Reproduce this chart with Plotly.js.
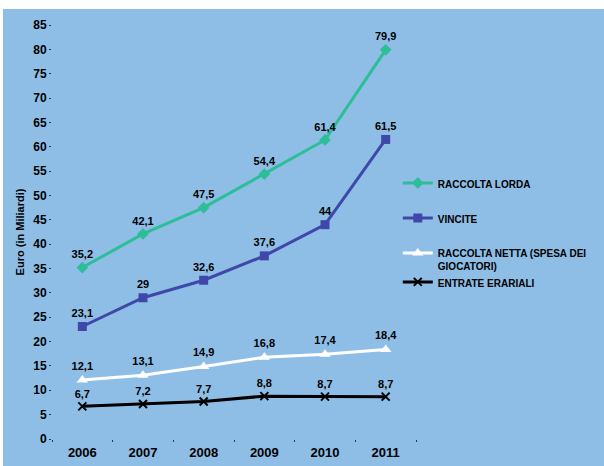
<!DOCTYPE html>
<html>
<head>
<meta charset="utf-8">
<script src="https://cdn.plot.ly/plotly-3.0.1.min.js"></script>
<style>
html,body{margin:0;padding:0;background:#ffffff;width:604px;height:466px;overflow:hidden;}
#chart{position:absolute;left:3px;top:9px;width:601px;height:457px;}
</style>
</head>
<body>
<div id="chart"></div>
<script>
const years = ['2006','2007','2008','2009','2010','2011'];
const raccoltaLorda = [35.2, 42.1, 47.5, 54.4, 61.4, 79.9];
const vincite = [23.1, 29, 32.6, 37.6, 44, 61.5];
const raccoltaNetta = [12.1, 13.1, 14.9, 16.8, 17.4, 18.4];
const entrateErariali = [6.7, 7.2, 7.7, 8.8, 8.7, 8.7];
const seriesNames = ['RACCOLTA LORDA', 'VINCITE', 'RACCOLTA NETTA (SPESA DEI<br>GIOCATORI)', 'ENTRATE ERARIALI'];
const yTicks = [0,5,10,15,20,25,30,35,40,45,50,55,60,65,70,75,80,85];

const FONT = 'Liberation Sans, Arial, sans-serif';
const fmt = v => String(v).replace('.', ',');

function mk(name, ys, color, symbol, msize, group, extraMarker) {
  return {
    x: years, y: ys, name: name, type: 'scatter', mode: 'lines+markers+text',
    text: ys.map(fmt), textposition: 'top center',
    textfont: {family: FONT, size: 11, color: '#000000', weight: 'bold'},
    line: {color: color, width: 3},
    marker: Object.assign({color: color, symbol: symbol, size: msize}, extraMarker || {}),
    legendgroup: group, cliponaxis: false
  };
}

const data = [
  mk(seriesNames[0], raccoltaLorda, '#2DBE98', 'diamond', 9, 'a'),
  mk(seriesNames[1], vincite, '#3F48A8', 'square', 9, 'b'),
  mk(seriesNames[2], raccoltaNetta, '#FFFFFF', 'triangle-up', 10, 'c'),
  mk(seriesNames[3], entrateErariali, '#000000', 'x-thin', 8, 'c', {line: {color: '#000000', width: 2}})
];

const layout = {
  width: 601, height: 457,
  paper_bgcolor: '#8EBEE6', plot_bgcolor: '#8EBEE6',
  margin: {l: 49, r: 185, t: 16, b: 27},
  font: {family: FONT, size: 12, color: '#000000', weight: 'bold'},
  showlegend: true,
  legend: {x: 0.95, xanchor: 'left', y: 0.65, yanchor: 'top', bgcolor: 'rgba(0,0,0,0)',
           font: {family: FONT, size: 10, color: '#000000', weight: 'bold'},
           traceorder: 'grouped', tracegroupgap: 16, valign: 'top'},
  xaxis: {type: 'category', range: [-0.5, 5.5], showgrid: false, zeroline: false, showline: false,
          ticks: 'outside', ticklen: 2, tickwidth: 1, tickcolor: '#333333', tickson: 'boundaries',
          tickfont: {family: FONT, size: 13, color: '#000000', weight: 'bold'}, ticklabelstandoff: 4},
  yaxis: {range: [0, 85], tickvals: yTicks, ticktext: yTicks.map(String), showgrid: false, zeroline: false, showline: false,
          ticks: 'outside', ticklen: 2, tickwidth: 1, tickcolor: '#333333',
          tickfont: {family: FONT, size: 12, color: '#000000', weight: 'bold'},
          title: {text: 'Euro (in Miliardi)', font: {family: FONT, size: 11, color: '#000000', weight: 'bold'}, standoff: 6}}
};

Plotly.newPlot('chart', data, layout, {displayModeBar: false, staticPlot: true});
</script>
</body>
</html>
